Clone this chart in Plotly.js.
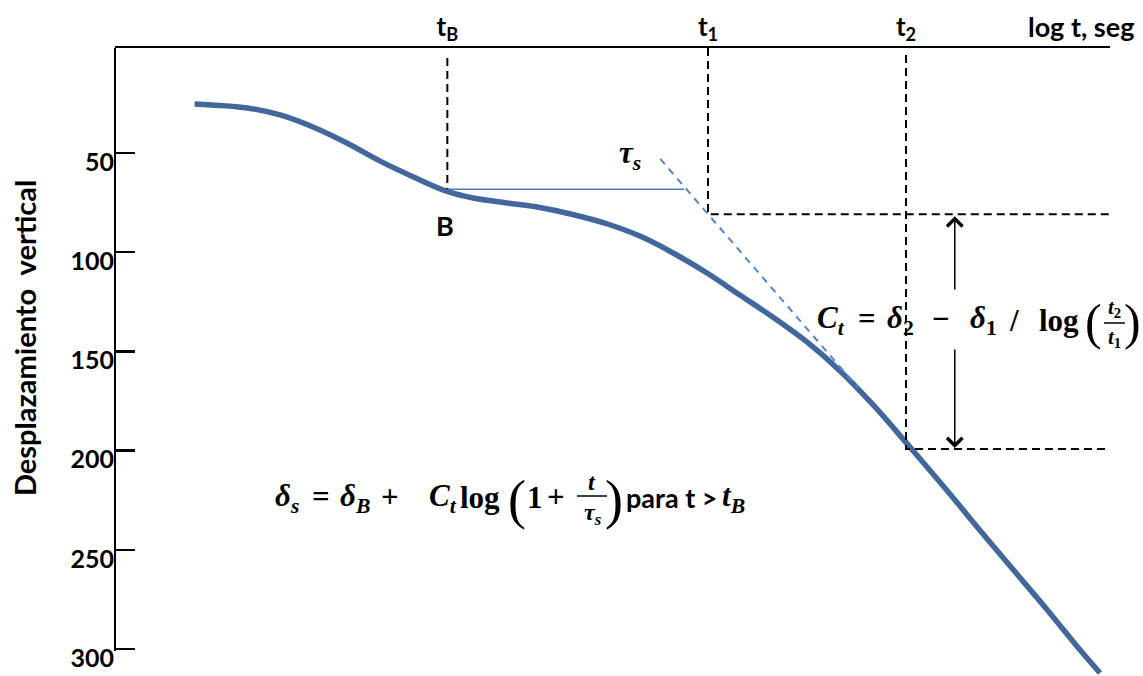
<!DOCTYPE html>
<html>
<head>
<meta charset="utf-8">
<script src="https://cdn.plot.ly/plotly-3.0.1.min.js"></script>
<style>html,body{margin:0;padding:0;background:#fff;}#chart{width:1143px;height:676px;}</style>
</head>
<body>
<div id="chart"></div>
<script>
// ---- data ----
const logT = [0.80, 1.33, 1.66, 1.99, 2.33, 2.66, 3.0, 3.34, 3.6, 3.94, 4.27, 4.6, 4.95, 5.28, 5.61, 5.95, 6.28, 6.61, 6.96, 7.29, 7.62, 7.96, 8.36, 8.69, 9.03, 9.37, 9.7, 9.9];
const displacement = [25.3, 27.3, 30.8, 36.9, 45.0, 54.0, 62.1, 69.4, 72.7, 75.2, 77.5, 81.0, 85.8, 92.0, 100.4, 110.5, 121.6, 132.7, 145.5, 160.0, 177.0, 196.5, 220.0, 240.0, 260.2, 280.3, 300.5, 312.1];

const tB = 3.34, t1 = 5.96, t2 = 7.95;
const deltaB = 68.3, delta1 = 80.9, delta2 = 199.2;
const tauX = [5.48, 7.46];
const tauY = [53.0, 167.9];
const bLineX = [tB, 5.72];
const arrowX = 8.44;
const arrowTailTop = 119.6, arrowTailBottom = 148.3;

const topTickVals = [tB, t1, t2];
const topTickText = ['t<sub>B</sub>', 't<sub>1</sub>', 't<sub>2</sub>'];
const yTickVals = [50, 100, 150, 200, 250, 300];
const xRange = [0, 10];
const yRange = [313.6, -2.9];
const yAxisEnd = 301;

// ---- layout helpers (pixel -> paper) ----
const L = 115, R = 33, T = 48, B = 0, W = 1143, H = 676;
const PW = W - L - R, PH = H - T - B;
const px = v => (v - L) / PW;
const py = v => (H - B - v) / PH;

const serif = 'Liberation Serif';
const sans = 'Lato';
const black = '#000000';
const dashBlack = {color: black, width: 2, dash: '8px,5px'};

const traces = [
  {x: logT, y: displacement, mode: 'lines', line: {color: '#41679C', width: 5.5, shape: 'spline', smoothing: 1}, hoverinfo: 'skip'},
  {x: bLineX, y: [deltaB, deltaB], mode: 'lines', line: {color: '#4A7CC0', width: 1.6}, hoverinfo: 'skip'},
  {x: tauX, y: tauY, mode: 'lines', line: {color: '#5585C8', width: 2, dash: '7px,6px'}, hoverinfo: 'skip'},
  {x: [tB, tB], y: [2.1, deltaB], mode: 'lines', line: dashBlack, hoverinfo: 'skip'},
  {x: [t1, t1, xRange[1]], y: [yRange[1], delta1, delta1], mode: 'lines', line: dashBlack, hoverinfo: 'skip'},
  {x: [t2, t2, xRange[1]], y: [0.6, delta2, delta2], mode: 'lines', line: dashBlack, hoverinfo: 'skip'}
];

function txt(text, x, y, opts) {
  return Object.assign({text: text, xref: 'paper', yref: 'paper', x: px(x), y: py(y), showarrow: false,
    xanchor: 'center', yanchor: 'middle', font: {family: serif, size: 31, color: black}}, opts || {});
}
const F = (fam, size) => ({font: {family: fam, size: size, color: black}});
const left = extra => Object.assign({xanchor: 'left'}, extra || {});

const annotations = [
  txt('<b>log t, seg</b>', 1136, 27, {xanchor: 'right', font: {family: sans, size: 27, color: black}}),
  txt('<b>Desplazamiento&nbsp; vertical</b>', 24, 338, {textangle: -90, font: {family: sans, size: 29, color: black}}),
  txt('<b>B</b>', 445, 225, F(sans, 27)),
  txt('<b><i>τ<sub>s</sub></i></b>', 630, 155, F(serif, 31)),
  // double arrow
  {x: arrowX, y: delta1 + 1, ax: arrowX, ay: arrowTailTop, xref: 'x', yref: 'y', axref: 'x', ayref: 'y', text: '', showarrow: true, arrowhead: 4, arrowsize: 2, arrowwidth: 1.5, arrowcolor: black, standoff: 0},
  {x: arrowX, y: delta2 - 0.5, ax: arrowX, ay: arrowTailBottom, xref: 'x', yref: 'y', axref: 'x', ayref: 'y', text: '', showarrow: true, arrowhead: 4, arrowsize: 2, arrowwidth: 1.5, arrowcolor: black, standoff: 0},
  // Ct formula
  txt('<b><i>C<sub>t</sub></i></b>', 815, 320, left()),
  txt('<b>=</b>', 867, 318),
  txt('<b><i>δ</i><sub>2</sub></b>', 885, 320, left()),
  txt('<b>−</b>', 941, 318),
  txt('<b><i>δ</i><sub>1</sub></b>', 968, 320, left()),
  txt('<b>/</b>', 1014, 320),
  txt('<b>log</b>', 1037, 320, left()),
  txt('(', 1093, 322, F(serif, 50)),
  txt('<b><i>t</i><sub>2</sub></b>', 1114, 308, F(serif, 21)),
  txt('<b><i>t</i><sub>1</sub></b>', 1114, 338, F(serif, 21)),
  txt(')', 1132, 322, F(serif, 50)),
  // settlement formula
  txt('<b><i>δ<sub>s</sub></i></b>', 273, 498, left()),
  txt('<b>=</b>', 321, 496),
  txt('<b><i>δ<sub>B</sub></i></b>', 338, 498, left()),
  txt('<b>+</b>', 390, 496),
  txt('<b><i>C<sub>t</sub></i></b>', 427, 498, left()),
  txt('<b>log</b>', 458, 498, left()),
  txt('(', 517, 500, F(serif, 54)),
  txt('<b>1</b>', 535, 497),
  txt('<b>+</b>', 556, 496),
  txt('<b><i>t</i></b>', 592, 482, F(serif, 24)),
  txt('<b><i>τ<sub>s</sub></i></b>', 593, 514, F(serif, 24)),
  txt(')', 614, 500, F(serif, 54)),
  txt('<b>para t &gt;</b>', 624, 497, left(F(sans, 27))),
  txt('<b><i>t<sub>B</sub></i></b>', 720, 498, left())
];

const shapes = [
  {type: 'line', xref: 'paper', yref: 'y', x0: 0, x1: 0, y0: yRange[1], y1: yAxisEnd, line: {color: black, width: 2}},
  {type: 'line', xref: 'paper', yref: 'paper', x0: px(577), x1: px(607), y0: py(496), y1: py(496), line: {color: black, width: 1.5}},
  {type: 'line', xref: 'paper', yref: 'paper', x0: px(1104), x1: px(1125), y0: py(323), y1: py(323), line: {color: black, width: 1.5}}
];

const layout = {
  width: W, height: H,
  margin: {l: L, r: R, t: T, b: B, pad: 0},
  paper_bgcolor: '#ffffff', plot_bgcolor: '#ffffff',
  showlegend: false,
  xaxis: {
    range: xRange, side: 'top', showline: true, linecolor: black, linewidth: 2,
    showgrid: false, zeroline: false, ticks: '', tickmode: 'array',
    tickvals: topTickVals, ticktext: topTickText,
    tickfont: {family: sans, size: 26, color: black, weight: 'bold'}
  },
  yaxis: {
    range: yRange, showline: false, showgrid: false, zeroline: false,
    ticks: 'inside', ticklen: 20, tickwidth: 2.5, tickcolor: black,
    tickmode: 'array', tickvals: yTickVals,
    tickfont: {family: sans, size: 25, color: black, weight: 'bold'},
    ticklabelshift: -9
  },
  annotations: annotations,
  shapes: shapes
};

Plotly.newPlot('chart', traces, layout, {staticPlot: true, displayModeBar: false});
</script>
</body>
</html>
